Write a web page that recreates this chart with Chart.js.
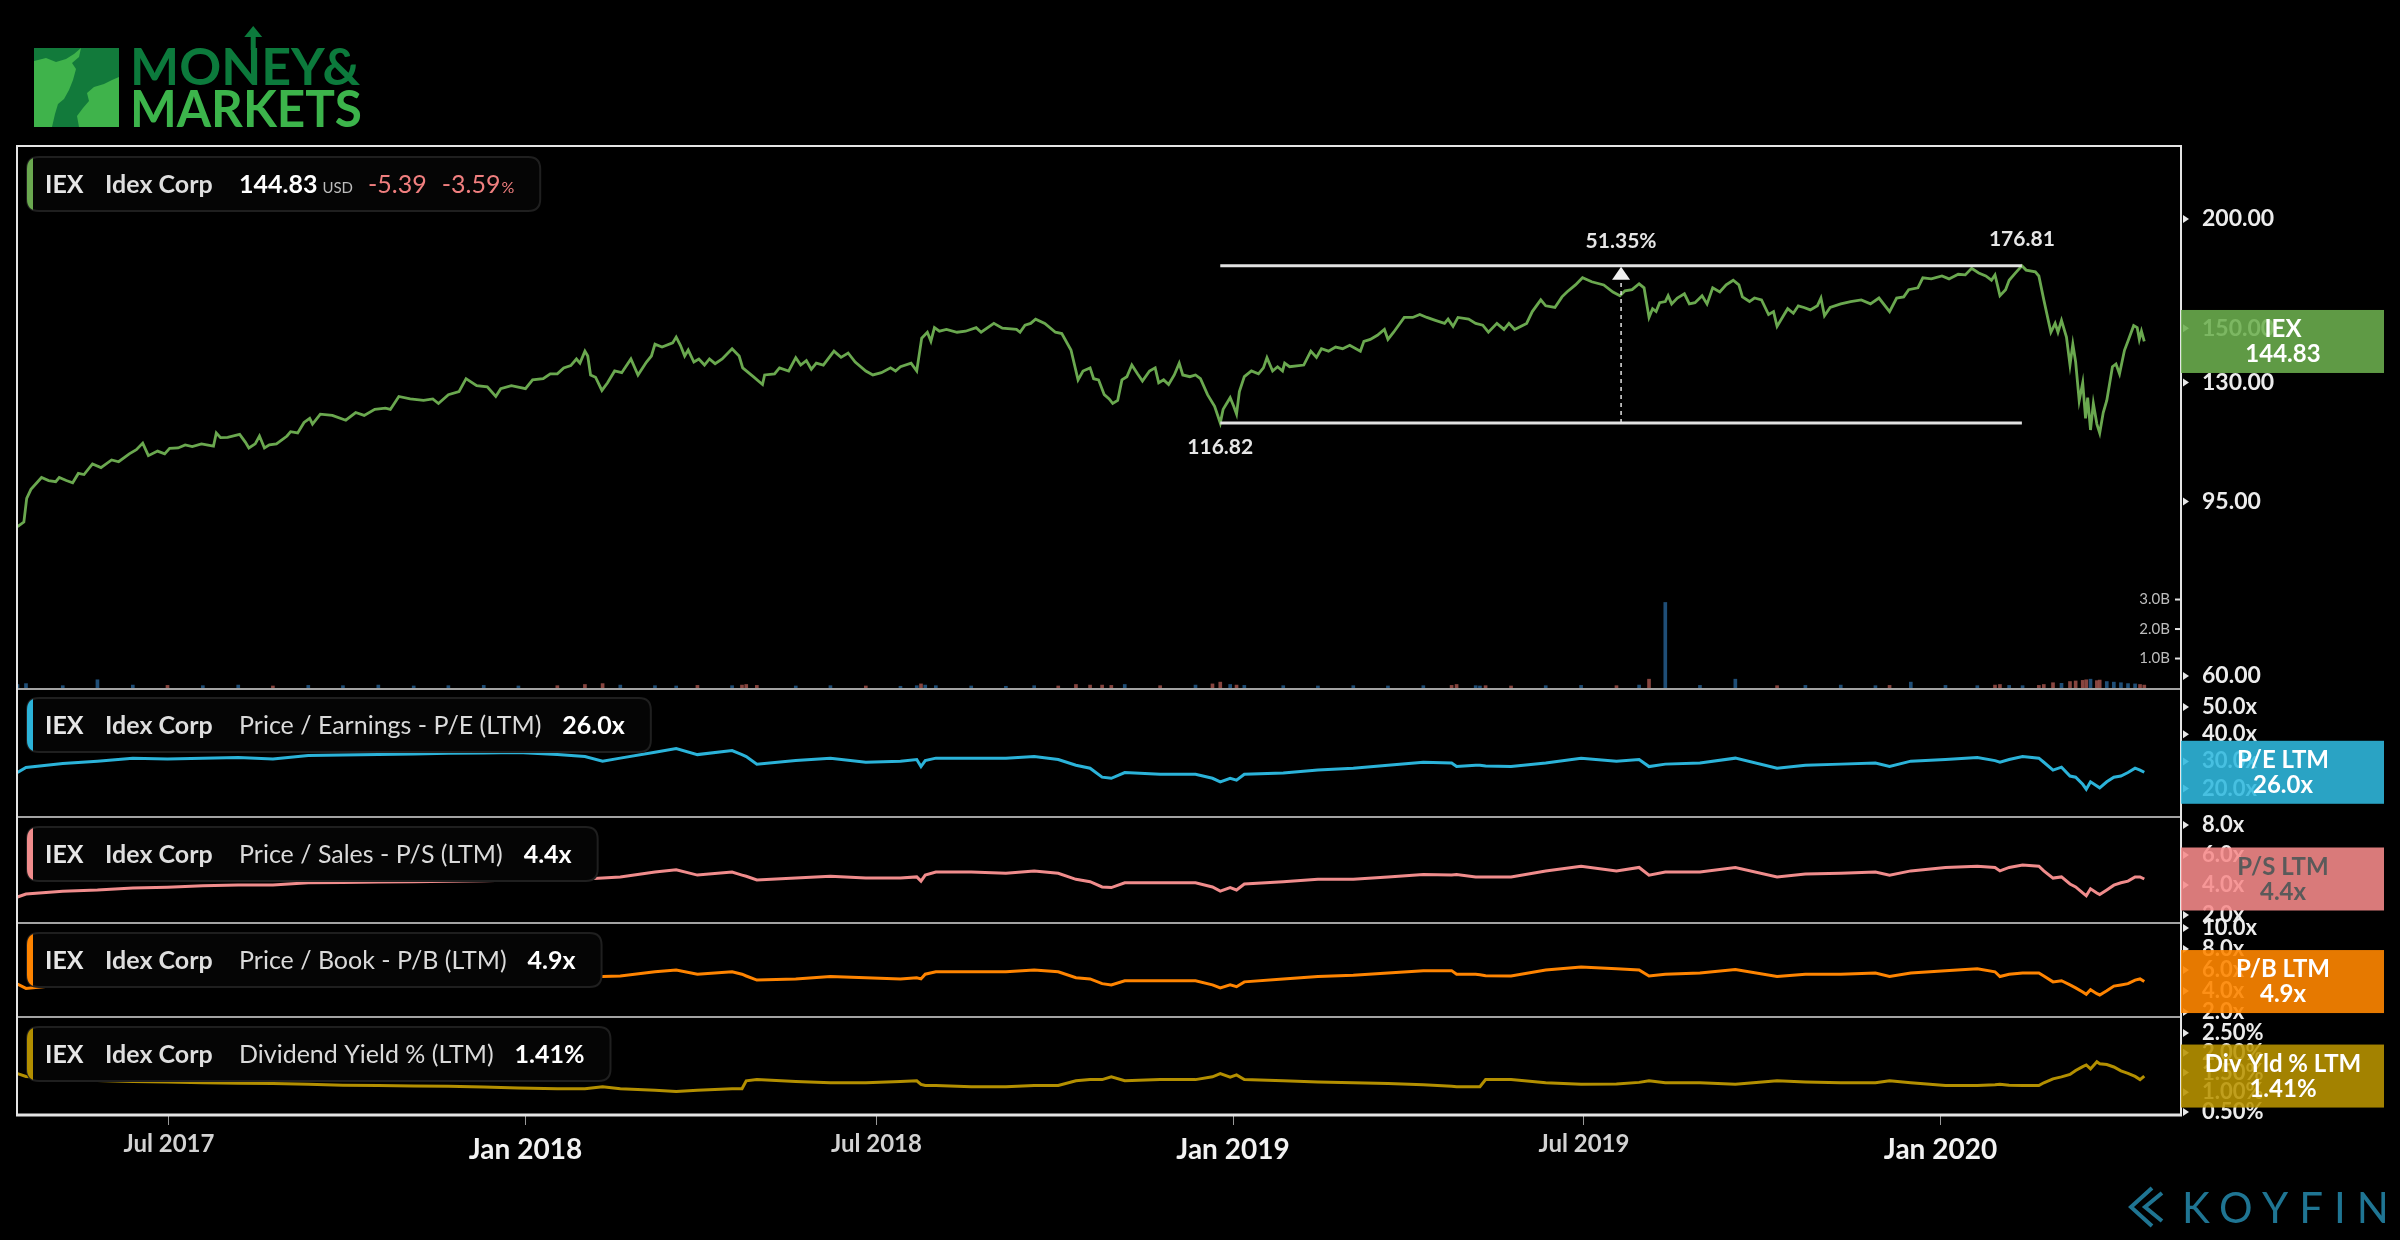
<!DOCTYPE html>
<html>
<head>
<meta charset="utf-8">
<title>IEX Idex Corp</title>
<script src="https://cdn.jsdelivr.net/npm/chart.js@4.4.1/dist/chart.umd.min.js"></script>
<style>
  html, body { margin: 0; padding: 0; background: #000; overflow: hidden; }
  #wrap { position: relative; width: 2400px; height: 1240px; }
  canvas { display: block; }
</style>
</head>
<body>
<div id="wrap"><canvas id="chart" width="2400" height="1240"></canvas></div>
<script>
// dates are decimal years (2019.5 = early Jul 2019)
const priceT = [
  2017.282, 2017.291, 2017.295, 2017.301, 2017.316, 2017.326, 2017.336, 2017.341, 2017.351, 2017.360,
  2017.368, 2017.376, 2017.388, 2017.400, 2017.415, 2017.425, 2017.440, 2017.450, 2017.459, 2017.467,
  2017.480, 2017.490, 2017.497, 2017.509, 2017.519, 2017.529, 2017.542, 2017.559, 2017.563, 2017.569,
  2017.579, 2017.596, 2017.604, 2017.609, 2017.618, 2017.624, 2017.631, 2017.638, 2017.648, 2017.663,
  2017.668, 2017.678, 2017.687, 2017.695, 2017.699, 2017.710, 2017.727, 2017.746, 2017.760, 2017.772,
  2017.787, 2017.802, 2017.809, 2017.821, 2017.837, 2017.856, 2017.869, 2017.877, 2017.891, 2017.906,
  2017.916, 2017.931, 2017.946, 2017.958, 2017.965, 2017.980, 2018.000, 2018.010, 2018.025, 2018.035,
  2018.045, 2018.054, 2018.064, 2018.072, 2018.077, 2018.084, 2018.088, 2018.092, 2018.099, 2018.108,
  2018.116, 2018.126, 2018.136, 2018.149, 2018.159, 2018.171, 2018.178, 2018.183, 2018.193, 2018.208,
  2018.213, 2018.219, 2018.225, 2018.230, 2018.238, 2018.245, 2018.253, 2018.260, 2018.268, 2018.278,
  2018.292, 2018.302, 2018.307, 2018.322, 2018.335, 2018.338, 2018.352, 2018.359, 2018.372, 2018.382,
  2018.389, 2018.397, 2018.404, 2018.411, 2018.421, 2018.436, 2018.446, 2018.456, 2018.466, 2018.481,
  2018.491, 2018.503, 2018.516, 2018.523, 2018.530, 2018.545, 2018.553, 2018.560, 2018.568, 2018.573,
  2018.578, 2018.585, 2018.595, 2018.610, 2018.622, 2018.637, 2018.644, 2018.662, 2018.674, 2018.694,
  2018.699, 2018.706, 2018.714, 2018.721, 2018.734, 2018.749, 2018.758, 2018.771, 2018.781, 2018.788,
  2018.798,
  2018.803, 2018.810, 2018.818, 2018.825, 2018.830, 2018.837, 2018.843, 2018.850, 2018.857, 2018.865,
  2018.872, 2018.882, 2018.890, 2018.895, 2018.902, 2018.909, 2018.917, 2018.924, 2018.929, 2018.939,
  2018.947, 2018.954, 2018.964, 2018.974, 2018.982, 2018.986, 2018.991, 2018.996, 2019.001, 2019.005,
  2019.009, 2019.016, 2019.026, 2019.036, 2019.043, 2019.048, 2019.056, 2019.063, 2019.070, 2019.073,
  2019.080, 2019.100, 2019.110, 2019.118, 2019.125, 2019.135, 2019.145, 2019.155, 2019.165, 2019.180,
  2019.185, 2019.194, 2019.204, 2019.214, 2019.219, 2019.227, 2019.242, 2019.254, 2019.264, 2019.274,
  2019.286, 2019.299, 2019.304, 2019.311, 2019.318, 2019.333, 2019.343, 2019.353, 2019.361, 2019.373,
  2019.383, 2019.390, 2019.398, 2019.415, 2019.423, 2019.435, 2019.442, 2019.455, 2019.465, 2019.472,
  2019.484, 2019.494, 2019.507, 2019.524, 2019.537, 2019.547, 2019.554, 2019.564,
  2019.574, 2019.581, 2019.588, 2019.593, 2019.598, 2019.603, 2019.611, 2019.615, 2019.620, 2019.628,
  2019.638, 2019.645, 2019.653, 2019.663, 2019.670, 2019.678, 2019.688, 2019.697, 2019.707, 2019.715,
  2019.720, 2019.730, 2019.737, 2019.747, 2019.757, 2019.764, 2019.769, 2019.779, 2019.784, 2019.792,
  2019.799, 2019.807, 2019.816, 2019.826, 2019.831, 2019.836, 2019.844, 2019.859, 2019.873, 2019.888,
  2019.901, 2019.913, 2019.928, 2019.938, 2019.948, 2019.955, 2019.968, 2019.975, 2019.987, 2020.002,
  2020.012, 2020.025, 2020.035, 2020.044, 2020.054, 2020.064, 2020.072, 2020.077, 2020.084, 2020.092,
  2020.097, 2020.106, 2020.115, 2020.121, 2020.134, 2020.139, 2020.146, 2020.156, 2020.162, 2020.166,
  2020.171, 2020.178, 2020.183, 2020.187, 2020.191, 2020.196, 2020.201, 2020.205, 2020.208, 2020.212,
  2020.216, 2020.221, 2020.225, 2020.230, 2020.235, 2020.243, 2020.248, 2020.253, 2020.260, 2020.265,
  2020.273, 2020.278, 2020.281, 2020.284, 2020.288
];
const price = [
  88.9, 90.0, 95.8, 98.1, 101.2, 100.4, 100.1, 101.2, 100.4, 99.8,
  102.3, 102.0, 104.9, 103.9, 106.0, 105.5, 107.7, 108.9, 110.8, 107.2,
  108.5, 107.7, 109.3, 109.4, 110.3, 109.8, 110.6, 109.9, 113.8, 112.4,
  112.5, 113.4, 111.1, 109.4, 110.6, 112.9, 109.4, 110.3, 110.6, 112.9,
  114.2, 113.8, 117.0, 118.3, 116.5, 119.6, 119.2, 117.7, 120.1, 119.2,
  121.1, 121.5, 121.1, 125.3, 124.5, 124.0, 124.5, 123.0, 125.9, 126.9,
  131.3, 128.9, 128.5, 125.3, 127.9, 128.9, 127.9, 130.9, 131.3, 133.0,
  133.0, 135.1, 135.9, 138.3, 136.8, 141.2, 139.4, 132.6, 131.8, 127.3,
  129.9, 134.0, 133.4, 138.3, 132.6, 137.2, 139.4, 143.8, 142.7, 144.3,
  146.5, 143.4, 139.4, 141.6, 137.2, 138.3, 136.1, 138.3, 136.6, 138.3,
  142.1, 139.4, 135.1, 132.0, 129.3, 132.6, 133.0, 135.1, 134.0, 138.8,
  136.1, 137.7, 134.6, 136.8, 136.1, 141.2, 138.9, 140.5, 137.2, 134.0,
  132.6, 133.4, 135.1, 134.0, 135.5, 136.8, 134.0, 146.1, 148.4, 144.9,
  150.2, 148.8, 149.5, 148.4, 148.8, 150.2, 148.4, 151.9, 150.0, 149.5,
  148.4, 151.2, 151.9, 153.6, 151.9, 148.4, 147.9, 141.6, 130.9, 134.0,
  135.1,
  131.3, 130.9, 125.9, 124.5, 123.0, 124.0, 130.9, 132.0, 136.1, 133.0,
  130.5, 134.0, 135.1, 129.9, 130.9, 129.3, 132.6, 136.8, 132.6, 132.0,
  132.6, 131.3, 125.9, 122.1, 116.82, 121.1, 123.0, 124.9, 122.1, 119.6,
  126.9, 132.0, 134.0, 133.0, 135.1, 138.8, 134.0, 135.5, 134.0, 136.8,
  135.5, 136.1, 141.2, 138.9, 142.1, 141.2, 142.7, 142.1, 143.4, 141.2,
  144.9, 145.6, 147.2, 149.5, 145.6, 148.4, 154.3, 154.3, 155.5, 154.3,
  153.1, 151.9, 153.6, 150.7, 154.3, 153.6, 151.9, 151.2, 148.4, 151.9,
  149.5, 151.9, 149.5, 151.9, 156.7, 161.6, 159.1, 158.4, 162.9, 165.0,
  168.1, 171.3, 169.5, 168.1, 165.0, 163.4, 165.5, 166.0,
  168.6, 166.8, 154.3, 157.9, 156.7, 160.4, 160.9, 163.4, 159.9, 162.4,
  164.2, 159.9, 160.4, 163.4, 159.9, 166.8, 165.0, 168.1, 170.2, 168.1,
  162.9, 160.9, 162.4, 161.6, 155.5, 156.7, 150.7, 155.5, 157.9, 156.0,
  159.1, 158.4, 157.4, 159.1, 162.4, 155.0, 158.4, 159.9, 160.9, 161.6,
  159.9, 162.4, 156.7, 162.4, 162.9, 166.0, 166.8, 171.3, 170.8, 172.1,
  170.8, 172.9, 172.6, 175.6, 173.5, 172.1, 170.2, 172.6, 163.4, 166.0,
  170.2, 173.5, 176.81, 174.8, 174.0, 172.1, 161.6, 148.4, 151.9, 148.4,
  153.1, 146.5, 136.1, 143.8, 137.2, 123.9, 129.9, 118.3, 124.9, 114.7,
  123.0, 116.5, 113.8, 120.1, 124.0, 135.5, 136.5, 133.0, 141.5, 145.0,
  151.0, 150.2, 145.6, 148.8, 144.83
];

// valuation panes and volume share one date grid
const indT = [
  2017.282, 2017.294, 2017.346, 2017.395, 2017.445, 2017.494, 2017.544, 2017.594, 2017.643, 2017.693,
  2017.742, 2017.792, 2017.842, 2017.891, 2017.941, 2017.990,
  2018.045, 2018.084, 2018.109, 2018.134, 2018.183, 2018.213, 2018.243, 2018.292, 2018.306, 2018.312,
  2018.327, 2018.382, 2018.431, 2018.481, 2018.530, 2018.553, 2018.559, 2018.565, 2018.580, 2018.630,
  2018.679, 2018.719, 2018.753, 2018.778, 2018.798,
  2018.815, 2018.828, 2018.847, 2018.897, 2018.947, 2018.971, 2018.982, 2018.996, 2019.005, 2019.016,
  2019.071, 2019.120, 2019.170, 2019.219, 2019.269, 2019.309, 2019.316, 2019.343, 2019.349, 2019.357,
  2019.393, 2019.442, 2019.492, 2019.542,
  2019.574, 2019.588, 2019.611, 2019.660, 2019.710, 2019.769, 2019.809, 2019.859, 2019.908, 2019.928,
  2019.958, 2020.007, 2020.052, 2020.077, 2020.084, 2020.097, 2020.116, 2020.139, 2020.146, 2020.159,
  2020.171, 2020.183, 2020.191, 2020.201, 2020.206, 2020.212, 2020.221, 2020.225, 2020.235, 2020.245,
  2020.255, 2020.265, 2020.275, 2020.282, 2020.288
];
const peLTM = [
  25.9, 27.8, 29.2, 30.1, 31.2, 30.9, 31.2, 31.4, 30.9, 32.2, 32.4, 32.5, 32.7, 33.0, 33.1, 33.3,
  32.5, 31.8, 30.1, 31.2, 33.4, 34.7, 32.5, 34.0, 32.5, 31.8, 29.0, 30.3, 31.2, 29.7, 30.1, 30.7,
  28.1, 30.3, 31.2, 31.2, 31.2, 31.8, 30.7, 28.6, 27.5,
  24.2, 23.8, 25.9, 25.3, 25.3, 23.8, 22.5, 23.8, 23.1, 25.3, 25.7, 26.8, 27.5, 28.6, 29.7, 29.4,
  28.1, 28.6, 28.6, 28.3, 28.1, 29.4, 31.2, 30.1,
  30.7, 28.1, 29.0, 29.4, 31.2, 27.5, 28.6, 29.0, 29.4, 28.1, 30.1, 30.7, 31.4, 30.3, 29.7, 30.7,
  31.8, 31.2, 29.7, 26.8, 27.9, 24.6, 24.2, 21.6, 19.8, 22.5, 21.0, 20.3, 22.5, 24.2, 24.6, 25.9,
  27.5, 26.8, 26.0
];
const psLTM = [
  3.20, 3.40, 3.58, 3.66, 3.80, 3.85, 3.95, 4.00, 4.00, 4.15, 4.16, 4.20, 4.22, 4.25, 4.28, 4.33,
  4.35, 4.40, 4.46, 4.54, 4.86, 5.01, 4.66, 4.86, 4.66, 4.58, 4.34, 4.46, 4.58, 4.46, 4.46, 4.54,
  4.26, 4.66, 4.86, 4.86, 4.78, 4.94, 4.78, 4.38, 4.22,
  3.87, 3.83, 4.15, 4.15, 4.15, 3.87, 3.59, 3.83, 3.67, 4.07, 4.22, 4.38, 4.38, 4.54, 4.70, 4.66,
  4.70, 4.54, 4.54, 4.54, 4.54, 4.94, 5.25, 4.94,
  5.17, 4.66, 4.86, 4.86, 5.17, 4.54, 4.74, 4.78, 4.86, 4.66, 4.94, 5.17, 5.25, 5.17, 4.94, 5.17,
  5.33, 5.25, 4.94, 4.46, 4.54, 4.07, 3.87, 3.47, 3.28, 3.75, 3.47, 3.36, 3.67, 3.99, 4.15, 4.26,
  4.54, 4.54, 4.40
];
const pbLTM = [
  4.65, 4.25, 4.60, 4.70, 4.80, 4.85, 4.95, 5.00, 5.00, 5.10, 5.15, 5.20, 5.20, 5.25, 5.30, 5.35,
  5.35, 5.35, 5.38, 5.43, 5.83, 6.00, 5.60, 5.83, 5.60, 5.43, 5.04, 5.15, 5.38, 5.26, 5.15, 5.26,
  5.15, 5.60, 5.83, 5.83, 5.83, 6.00, 5.83, 5.26, 5.15,
  4.70, 4.58, 4.98, 4.98, 4.98, 4.58, 4.30, 4.58, 4.41, 4.87, 5.15, 5.38, 5.50, 5.71, 5.94, 5.94,
  5.60, 5.60, 5.55, 5.45, 5.43, 6.00, 6.28, 6.11,
  6.00, 5.43, 5.60, 5.71, 6.05, 5.38, 5.60, 5.60, 5.71, 5.38, 5.71, 5.94, 6.11, 5.83, 5.38, 5.60,
  5.71, 5.71, 5.43, 4.87, 4.98, 4.58, 4.30, 3.91, 3.68, 4.13, 3.74, 3.62, 4.02, 4.47, 4.58, 4.70,
  5.04, 5.15, 4.90
];
const divYld = [
  1.47, 1.40, 1.35, 1.30, 1.27, 1.26, 1.24, 1.23, 1.22, 1.20, 1.18, 1.17, 1.16, 1.15, 1.13, 1.11,
  1.09, 1.09, 1.14, 1.09, 1.05, 1.02, 1.05, 1.09, 1.09, 1.29, 1.32, 1.27, 1.24, 1.24, 1.27, 1.29,
  1.20, 1.17, 1.17, 1.14, 1.14, 1.17, 1.17, 1.29, 1.32,
  1.32, 1.39, 1.29, 1.32, 1.32, 1.39, 1.47, 1.38, 1.44, 1.32, 1.29, 1.26, 1.24, 1.22, 1.19, 1.15,
  1.14, 1.14, 1.14, 1.32, 1.32, 1.24, 1.20, 1.21,
  1.25, 1.29, 1.24, 1.24, 1.20, 1.29, 1.26, 1.24, 1.24, 1.29, 1.24, 1.17, 1.17, 1.19, 1.20, 1.18,
  1.17, 1.17, 1.24, 1.34, 1.39, 1.45, 1.55, 1.65, 1.69, 1.59, 1.77, 1.72, 1.70, 1.64, 1.54, 1.48,
  1.40, 1.32, 1.41
];
// volume in billions
const volume = [
  0.12, 0.15, 0.08, 0.28, 0.10, 0.09, 0.08, 0.10, 0.07, 0.09, 0.08, 0.10, 0.07, 0.08, 0.09, 0.07,
  0.08, 0.12, 0.15, 0.10, 0.08, 0.07, 0.09, 0.08, 0.10, 0.12, 0.09, 0.07, 0.08, 0.07, 0.06, 0.08,
  0.14, 0.10, 0.08, 0.07, 0.06, 0.08, 0.07, 0.12, 0.10,
  0.10, 0.09, 0.12, 0.08, 0.10, 0.14, 0.20, 0.12, 0.10, 0.09, 0.08, 0.07, 0.08, 0.07, 0.08, 0.09,
  0.12, 0.08, 0.07, 0.08, 0.07, 0.08, 0.09, 0.08,
  0.10, 0.30, 2.90, 0.09, 0.30, 0.08, 0.09, 0.10, 0.08, 0.09, 0.20, 0.09, 0.08, 0.10, 0.12, 0.09,
  0.08, 0.09, 0.12, 0.18, 0.16, 0.22, 0.24, 0.26, 0.28, 0.30, 0.25, 0.27, 0.22, 0.20, 0.18, 0.15,
  0.14, 0.12, 0.10
];

const xTicks = [2017.496, 2018, 2018.496, 2019, 2019.496, 2020];
const xTickLabels = ['Jul 2017', 'Jan 2018', 'Jul 2018', 'Jan 2019', 'Jul 2019', 'Jan 2020'];
const priceTicks = [60, 95, 130, 150, 200];
const peTicks = [20, 30, 40, 50];
const psTicks = [2, 4, 6, 8];
const pbTicks = [2, 4, 6, 8, 10];
const divTicks = [0.5, 1, 1.5, 2, 2.5];
const volTicks = [1, 2, 3];
const measureT = [2018.982, 2020.115];
const measureV = [116.82, 176.81];
const dayChange = [-5.39, -3.59];

const GREEN = '#6aa84f', CYAN = '#2bb3d9', PINK = '#f08c8c', ORANGE = '#ff8400', OLIVE = '#b38f00';
const FAM = 'Lato, "Noto Sans", sans-serif';
const F = (w, s) => w + ' ' + s + 'px ' + FAM;

Chart.defaults.font.family = FAM;
Chart.defaults.color = '#e0e0e0';

function pts(ts, vs) {
  return ts.map((t, i) => ({ x: t, y: vs[i] }));
}

// January ticks sit on whole years
function isJan(c) {
  return !!(c && c.tick && Math.abs(c.tick.value - Math.round(c.tick.value)) < 1e-6);
}

function paneAxis(type, weight, min, max, ticks, fmt) {
  return {
    type: type, position: 'right', stack: 'panes', stackWeight: weight,
    min: min, max: max, bounds: 'data',
    afterBuildTicks: s => { s.ticks = ticks.map(v => ({ value: v })); },
    afterFit: s => { s.width = 219; },
    grid: { display: false, drawTicks: false },
    border: { display: false },
    ticks: {
      autoSkip: false, padding: 21, color: '#ececec',
      font: { size: type === 'logarithmic' ? 23 : 22, weight: 'bold' },
      callback: fmt
    }
  };
}

function rrect(ctx, x, y, w, h, r) {
  ctx.beginPath();
  ctx.moveTo(x + r, y);
  ctx.lineTo(x + w - r, y);
  ctx.quadraticCurveTo(x + w, y, x + w, y + r);
  ctx.lineTo(x + w, y + h - r);
  ctx.quadraticCurveTo(x + w, y + h, x + w - r, y + h);
  ctx.lineTo(x + r, y + h);
  ctx.quadraticCurveTo(x, y + h, x, y + h - r);
  ctx.lineTo(x, y + r);
  ctx.quadraticCurveTo(x, y, x + r, y);
  ctx.closePath();
}

// legend chip at the top left of a pane
function legend(ctx, top, accent, items) {
  const base = top + 36;
  let x = 45;
  const xs = [];
  items.forEach(it => {
    ctx.font = it.f;
    if (it.at !== undefined) x = it.at; else x += it.gap;
    xs.push(x);
    x += ctx.measureText(it.t).width;
  });
  rrect(ctx, 27, top, x + 26 - 27, 54, 12);
  ctx.fillStyle = '#050505';
  ctx.fill();
  ctx.lineWidth = 2;
  ctx.strokeStyle = '#1f1f1f';
  ctx.stroke();
  ctx.save();
  ctx.clip();
  ctx.fillStyle = accent;
  ctx.fillRect(27, top, 6, 54);
  ctx.restore();
  ctx.textAlign = 'left';
  ctx.textBaseline = 'alphabetic';
  items.forEach((it, i) => {
    ctx.font = it.f;
    ctx.fillStyle = it.c;
    ctx.fillText(it.t, xs[i], base);
  });
}

function nameItems(desc, val) {
  return [
    { t: 'IEX', f: F('bold', 25), c: '#e6e6e6', at: 45 },
    { t: 'Idex Corp', f: F('bold', 25), c: '#dedede', at: 105 },
    { t: desc, f: F('normal', 25), c: '#dadada', at: 239 },
    { t: val, f: F('bold', 25), c: '#ffffff', gap: 21 }
  ];
}

// last-value tag on the right axis
function valueBox(ctx, a, y, fill, textColor, lines) {
  ctx.fillStyle = fill;
  ctx.fillRect(a.right, y - 31.5, 203, 63);
  ctx.fillStyle = textColor;
  ctx.font = F('bold', 24);
  ctx.textAlign = 'center';
  ctx.textBaseline = 'middle';
  ctx.fillText(lines[0], a.right + 102, y - 12);
  ctx.fillText(lines[1], a.right + 102, y + 13);
}

function moneyLogo(ctx) {
  ctx.save();
  ctx.fillStyle = '#127a3b';
  ctx.fillRect(34, 48, 85, 79);
  ctx.fillStyle = '#3fb34b';
  const poly = p => {
    ctx.beginPath();
    p.forEach((q, i) => i ? ctx.lineTo(q[0], q[1]) : ctx.moveTo(q[0], q[1]));
    ctx.closePath();
    ctx.fill();
  };
  poly([[34, 61], [46, 58], [56, 62], [66, 59], [74, 54], [81, 48], [79, 57], [72, 63], [76, 69], [73, 80],
        [69, 90], [64, 99], [58, 104], [55, 114], [52, 127], [34, 127]]);
  poly([[79, 127], [77, 116], [83, 108], [89, 101], [87, 93], [94, 87], [104, 84], [112, 80], [119, 77], [119, 127]]);
  ctx.textAlign = 'left';
  ctx.textBaseline = 'alphabetic';
  ctx.font = F('bold', 52);
  ctx.fillStyle = '#0c7a3c';
  ctx.fillText('MONEY&', 130, 85, 232);
  ctx.fillStyle = '#3cb44b';
  ctx.fillText('MARKETS', 130, 127, 232);
  const nx = 130 + ctx.measureText('MON').width - 8;
  ctx.strokeStyle = '#0c7a3c';
  ctx.lineWidth = 5;
  ctx.beginPath();
  ctx.moveTo(nx, 50);
  ctx.lineTo(nx, 34);
  ctx.stroke();
  ctx.fillStyle = '#0c7a3c';
  ctx.beginPath();
  ctx.moveTo(nx, 26);
  ctx.lineTo(nx + 9, 37);
  ctx.lineTo(nx - 9, 37);
  ctx.closePath();
  ctx.fill();
  ctx.restore();
}

function koyfinLogo(ctx) {
  ctx.save();
  ctx.strokeStyle = '#1f7593';
  ctx.lineWidth = 4;
  ctx.beginPath();
  ctx.moveTo(2152, 1188); ctx.lineTo(2131, 1207); ctx.lineTo(2152, 1226);
  ctx.stroke();
  ctx.beginPath();
  ctx.moveTo(2162, 1193); ctx.lineTo(2145, 1207); ctx.lineTo(2162, 1221);
  ctx.stroke();
  ctx.fillStyle = '#1f7593';
  ctx.font = F('normal', 42);
  ctx.textAlign = 'left';
  ctx.textBaseline = 'alphabetic';
  ctx.letterSpacing = '11px';
  ctx.fillText('KOYFIN', 2182, 1223);
  ctx.restore();
}

const decor = {
  id: 'decor',
  beforeDraw(chart) {
    const c = chart.ctx;
    c.save();
    c.fillStyle = '#000';
    c.fillRect(0, 0, chart.width, chart.height);
    c.restore();
  },
  afterDatasetsDraw(chart) {
    const ctx = chart.ctx, a = chart.chartArea, s = chart.scales;
    ctx.save();

    // range measurement between the Dec 2018 low and the Feb 2020 high
    const x0 = s.x.getPixelForValue(measureT[0]), x1 = s.x.getPixelForValue(measureT[1]);
    const yLo = s.yPrice.getPixelForValue(measureV[0]), yHi = s.yPrice.getPixelForValue(measureV[1]);
    const xm = (x0 + x1) / 2;
    ctx.strokeStyle = '#e2e2e2';
    ctx.lineWidth = 3;
    ctx.beginPath();
    ctx.moveTo(x0, yHi); ctx.lineTo(x1, yHi);
    ctx.moveTo(x0, yLo); ctx.lineTo(x1, yLo);
    ctx.stroke();
    ctx.setLineDash([4, 4]);
    ctx.lineWidth = 1.5;
    ctx.beginPath();
    ctx.moveTo(xm, yLo); ctx.lineTo(xm, yHi + 13);
    ctx.stroke();
    ctx.setLineDash([]);
    ctx.fillStyle = '#f0f0f0';
    ctx.beginPath();
    ctx.moveTo(xm, yHi + 1); ctx.lineTo(xm + 9, yHi + 14); ctx.lineTo(xm - 9, yHi + 14);
    ctx.closePath();
    ctx.fill();
    ctx.font = F('bold', 21);
    ctx.textAlign = 'center';
    ctx.textBaseline = 'middle';
    ctx.fillStyle = '#e6e6e6';
    ctx.fillText(((measureV[1] / measureV[0] - 1) * 100).toFixed(2) + '%', xm, yHi - 25);
    ctx.fillText(measureV[1].toFixed(2), x1, yHi - 27);
    ctx.fillText(measureV[0].toFixed(2), x0, yLo + 24);

    // legends
    const last = arr => arr[arr.length - 1];
    legend(ctx, s.yPrice.top + 11, GREEN, [
      { t: 'IEX', f: F('bold', 25), c: '#e6e6e6', at: 45 },
      { t: 'Idex Corp', f: F('bold', 25), c: '#dedede', at: 105 },
      { t: last(price).toFixed(2), f: F('bold', 25), c: '#ffffff', at: 239 },
      { t: 'USD', f: F('normal', 15), c: '#bdbdbd', gap: 5 },
      { t: dayChange[0].toFixed(2), f: F('normal', 25), c: '#f07f7f', gap: 15 },
      { t: dayChange[1].toFixed(2), f: F('normal', 25), c: '#f07f7f', gap: 15 },
      { t: '%', f: F('normal', 16), c: '#f07f7f', gap: 1 }
    ]);
    legend(ctx, s.yPE.top + 9, CYAN, nameItems('Price / Earnings - P/E (LTM)', last(peLTM).toFixed(1) + 'x'));
    legend(ctx, s.yPS.top + 10, PINK, nameItems('Price / Sales - P/S (LTM)', last(psLTM).toFixed(1) + 'x'));
    legend(ctx, s.yPB.top + 10, ORANGE, nameItems('Price / Book - P/B (LTM)', last(pbLTM).toFixed(1) + 'x'));
    legend(ctx, s.yDY.top + 10, OLIVE, nameItems('Dividend Yield % (LTM)', last(divYld).toFixed(2) + '%'));

    // pane separators and frame
    ctx.strokeStyle = '#a3a3a3';
    ctx.lineWidth = 2;
    [s.yPE.top, s.yPS.top, s.yPB.top, s.yDY.top].forEach(y => {
      ctx.beginPath(); ctx.moveTo(a.left, y); ctx.lineTo(a.right, y); ctx.stroke();
    });
    ctx.strokeStyle = '#e4e4e4';
    ctx.beginPath();
    ctx.moveTo(a.left, a.bottom); ctx.lineTo(a.left, a.top); ctx.lineTo(a.right, a.top); ctx.lineTo(a.right, a.bottom);
    ctx.stroke();
    ctx.lineWidth = 3;
    ctx.beginPath();
    ctx.moveTo(a.left - 1, a.bottom); ctx.lineTo(a.right + 1, a.bottom);
    ctx.stroke();

    // volume scale, drawn inside the price pane
    ctx.font = F('normal', 15);
    ctx.textAlign = 'right';
    ctx.textBaseline = 'middle';
    volTicks.forEach(v => {
      const y = s.yVol.getPixelForValue(v);
      ctx.fillStyle = '#bdbdbd';
      ctx.fillText(v.toFixed(1) + 'B', a.right - 11, y);
      ctx.fillStyle = '#e0e0e0';
      ctx.fillRect(a.right - 6, y - 1, 5, 2);
    });
    ctx.restore();
  },
  afterDraw(chart) {
    const ctx = chart.ctx, a = chart.chartArea, s = chart.scales;
    ctx.save();
    // little arrow markers next to the right axis labels
    ctx.fillStyle = '#e8e8e8';
    ['yPrice', 'yPE', 'yPS', 'yPB', 'yDY'].forEach(id => {
      s[id].ticks.forEach(t => {
        const y = s[id].getPixelForValue(t.value);
        ctx.beginPath();
        ctx.moveTo(a.right + 2, y - 4); ctx.lineTo(a.right + 8, y); ctx.lineTo(a.right + 2, y + 4);
        ctx.closePath();
        ctx.fill();
      });
    });
    const last = arr => arr[arr.length - 1];
    valueBox(ctx, a, s.yPrice.getPixelForValue(last(price)), 'rgba(108,175,78,0.88)', '#ffffff', ['IEX', last(price).toFixed(2)]);
    valueBox(ctx, a, s.yPE.getPixelForValue(last(peLTM)), 'rgba(48,185,223,0.88)', '#ffffff', ['P/E LTM', last(peLTM).toFixed(1) + 'x']);
    valueBox(ctx, a, s.yPS.getPixelForValue(last(psLTM)), 'rgba(247,139,139,0.88)', '#5a5a5a', ['P/S LTM', last(psLTM).toFixed(1) + 'x']);
    valueBox(ctx, a, s.yPB.getPixelForValue(last(pbLTM)), 'rgba(255,134,0,0.9)', '#ffffff', ['P/B LTM', last(pbLTM).toFixed(1) + 'x']);
    valueBox(ctx, a, s.yDY.getPixelForValue(last(divYld)), 'rgba(185,148,0,0.88)', '#ffffff', ['Div Yld % LTM', last(divYld).toFixed(2) + '%']);
    moneyLogo(ctx);
    koyfinLogo(ctx);
    ctx.restore();
  }
};

function build() {
  const volColors = volume.map((v, i) => (i > 0 && peLTM[i] < peLTM[i - 1]) ? 'rgba(150,76,70,0.9)' : 'rgba(34,86,132,0.9)');
  const lineSet = (label, ts, vs, axis, color, w) => ({
    label: label, data: pts(ts, vs), yAxisID: axis, borderColor: color, borderWidth: w,
    pointRadius: 0, tension: 0, fill: false, order: 1
  });
  new Chart(document.getElementById('chart'), {
    type: 'line',
    data: {
      datasets: [
        { type: 'bar', label: 'Volume', data: pts(indT, volume), yAxisID: 'yVol', backgroundColor: volColors,
          barThickness: 3, order: 10 },
        lineSet('IEX', priceT, price, 'yPrice', GREEN, 2.8),
        lineSet('P/E LTM', indT, peLTM, 'yPE', CYAN, 3),
        lineSet('P/S LTM', indT, psLTM, 'yPS', PINK, 3),
        lineSet('P/B LTM', indT, pbLTM, 'yPB', ORANGE, 3),
        lineSet('Div Yld % LTM', indT, divYld, 'yDY', OLIVE, 3)
      ]
    },
    options: {
      responsive: false,
      animation: false,
      events: [],
      layout: { padding: { left: 17, top: 146, right: 0, bottom: 0 } },
      plugins: { legend: { display: false }, tooltip: { enabled: false } },
      scales: {
        x: {
          type: 'linear', min: 2017.2813, max: 2020.3399, offset: false, bounds: 'data',
          afterBuildTicks: s => { s.ticks = xTicks.map(v => ({ value: v })); },
          afterFit: s => { s.height = 125; },
          grid: { offset: false, drawOnChartArea: false, drawTicks: true, tickLength: 10, color: '#9a9a9a', lineWidth: 1 },
          border: { display: false },
          ticks: {
            autoSkip: false, maxRotation: 0, minRotation: 0, padding: 5,
            callback: (v, i) => xTickLabels[i],
            color: c => isJan(c) ? '#f2f2f2' : '#d2d2d2',
            font: c => isJan(c)
              ? { size: 28, weight: 'bold', lineHeight: 1.43 }
              : { size: 24, weight: 'bold', lineHeight: 1.2 }
          }
        },
        yPrice: paneAxis('logarithmic', 543, 57.97, 242.4, priceTicks, v => Number(v).toFixed(2)),
        yPE: paneAxis('linear', 128, 9.56, 56.62, peTicks, v => Number(v).toFixed(1) + 'x'),
        yPS: paneAxis('linear', 106, 1.467, 8.533, psTicks, v => Number(v).toFixed(1) + 'x'),
        yPB: paneAxis('linear', 94, 1.524, 10.476, pbTicks, v => Number(v).toFixed(1) + 'x'),
        yDY: paneAxis('linear', 98, 0.424, 2.905, divTicks, v => Number(v).toFixed(2) + '%'),
        yVol: { type: 'linear', display: false, min: -14.47, max: 18.37 }
      }
    },
    plugins: [decor]
  });
}

const fontLoads = ['bold 24px Lato', '24px Lato', 'bold 52px Lato'].map(f => document.fonts.load(f).catch(() => null));
Promise.all(fontLoads).then(build, build);
</script>
</body>
</html>
